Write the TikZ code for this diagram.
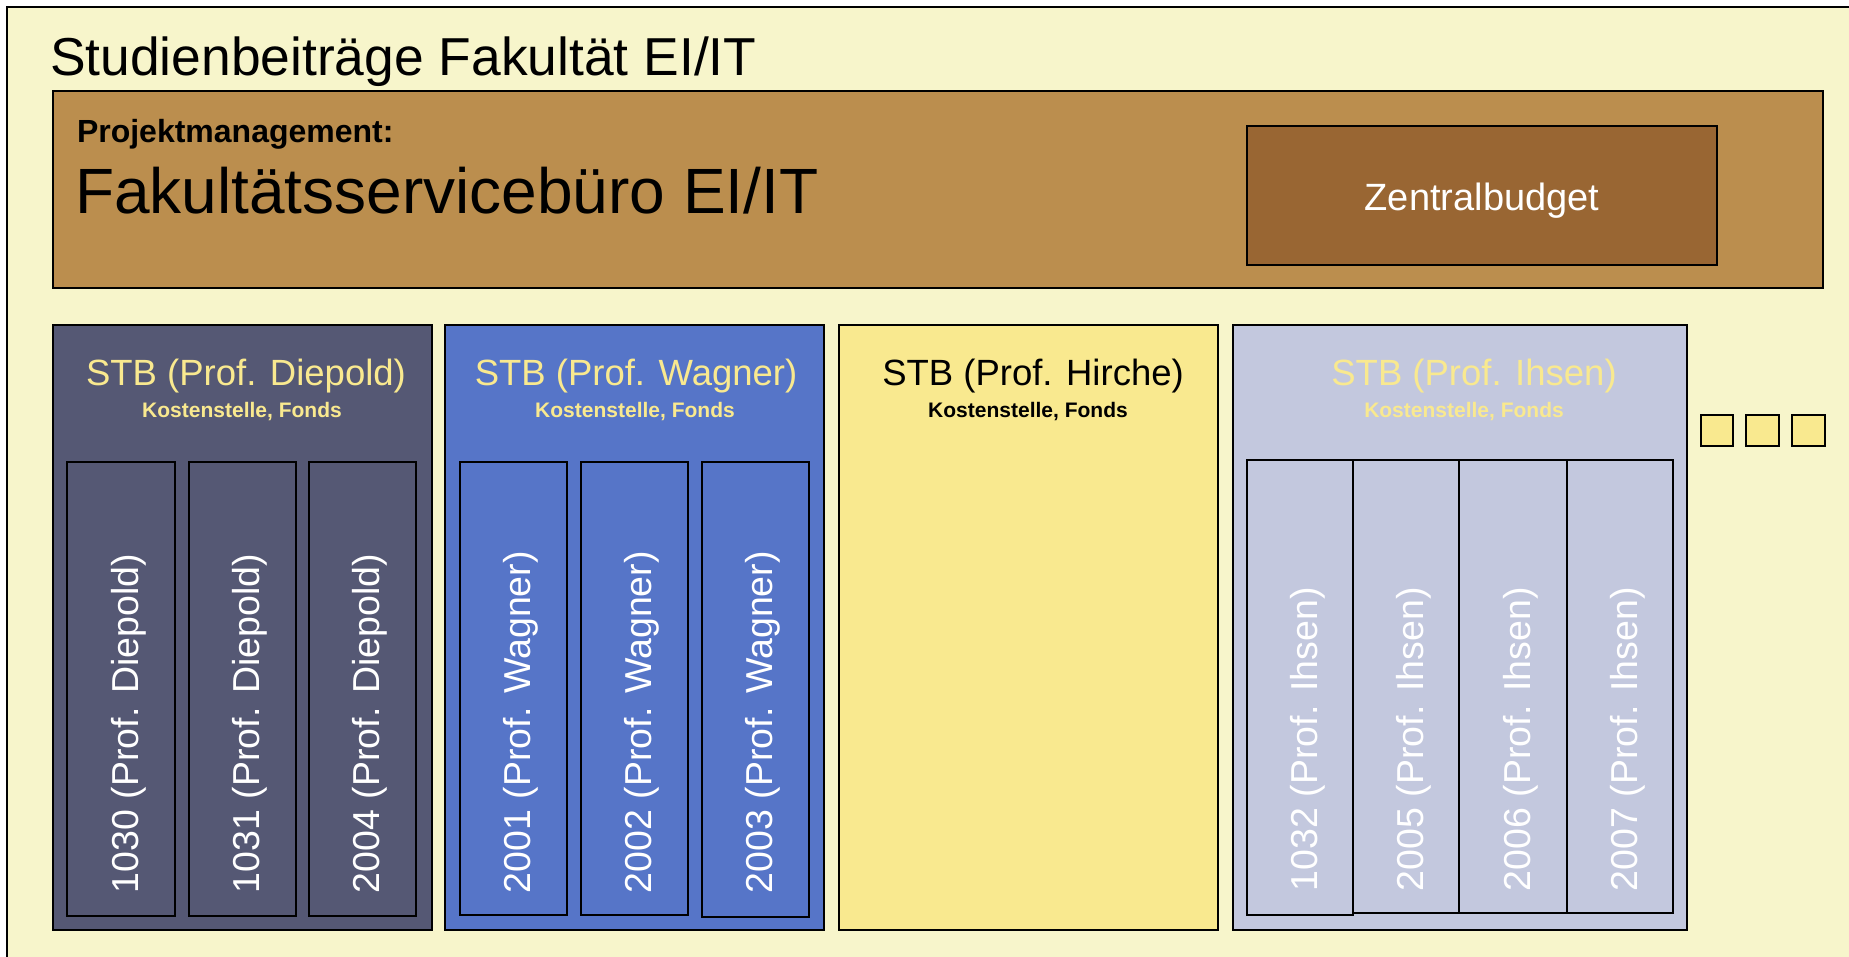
\documentclass[tikz,border=0pt]{standalone}
\usepackage{fontspec}
\setmainfont{Liberation Sans}
\definecolor{bgc}{HTML}{F7F5CB}
\definecolor{pmc}{HTML}{BB8E4E}
\definecolor{zbc}{HTML}{996633}
\definecolor{dpc}{HTML}{555874}
\definecolor{wgc}{HTML}{5675C8}
\definecolor{hic}{HTML}{F9E98F}
\definecolor{ihc}{HTML}{C3C8DE}
\definecolor{ylw}{HTML}{F9E98F}
\newcommand{\fs}[1]{\fontsize{#1}{#1}\selectfont}
\begin{document}
\begin{tikzpicture}[x=1pt,y=-1pt,
  box/.style={draw=black, line width=1.8pt, anchor=north west, inner sep=0pt, outer sep=0pt},
  colbox/.style={draw=black, line width=1.6pt, anchor=north west, inner sep=0pt, outer sep=0pt, minimum height=454pt},
  txt/.style={inner sep=0pt, outer sep=0pt},
  vlab/.style={inner sep=0pt, outer sep=0pt, rotate=90, anchor=base west, text=white, font=\fs{37.5}},
  stbt/.style={inner sep=0pt, anchor=base, font=\fs{36.5}},
  kst/.style={inner sep=0pt, anchor=base, font=\bfseries\fs{21}}]
\useasboundingbox (0,0) rectangle (1849,956);
\fill[white] (0,0) rectangle (1849,956);
% outer frame
\node[box, fill=bgc, minimum width=1870pt, minimum height=970pt] (outer) at (7,7) {};
\node[txt, anchor=base west, font=\fs{53.4}] (title) at (50,75) {Studienbeiträge Fakultät EI/IT};
% project management
\node[box, fill=pmc, minimum width=1770pt, minimum height=197pt] (pm) at (53,91) {};
\node[txt, anchor=base west, font=\bfseries\fs{32}] (pmlab) at (77,142) {Projektmanagement:};
\node[txt, anchor=base west, font=\fs{64}] (fsb) at (75,213) {Fakultätsservicebüro EI/IT};
\node[box, fill=zbc, minimum width=470pt, minimum height=139pt] (zb) at (1247,126) {};
\node[txt, anchor=base, text=white, font=\fs{38}] (zblab) at (1482,210) {Zentralbudget};
% STB boxes
\node[box, fill=dpc, minimum width=379pt, minimum height=605pt] (dp) at (53,325) {};
\node[box, fill=wgc, minimum width=379pt, minimum height=605pt] (wg) at (445,325) {};
\node[box, fill=hic, minimum width=379pt, minimum height=605pt] (hi) at (839,325) {};
\node[box, fill=ihc, minimum width=454pt, minimum height=605pt] (ih) at (1233,325) {};
\node[stbt, text=ylw] (dpt) at (246,385) {STB (Prof. Diepold)};
\node[kst, text=ylw] (dpk) at (242,417) {Kostenstelle, Fonds};
\node[stbt, text=ylw] (wgt) at (636,385) {STB (Prof. Wagner)};
\node[kst, text=ylw] (wgk) at (635,417) {Kostenstelle, Fonds};
\node[stbt, text=black] (hit) at (1033,385) {STB (Prof. Hirche)};
\node[kst, text=black] (hik) at (1028,417) {Kostenstelle, Fonds};
\node[stbt, text=ylw] (iht) at (1474,385) {STB (Prof. Ihsen)};
\node[kst, text=ylw] (ihk) at (1464,417) {Kostenstelle, Fonds};
% Diepold columns
\node[colbox, fill=dpc, minimum width=108pt] (d1) at (67,462) {};
\node[colbox, fill=dpc, minimum width=107pt] (d2) at (189,462) {};
\node[colbox, fill=dpc, minimum width=107pt] (d3) at (309,462) {};
\node[vlab] (d1l) at ([xshift=17pt]d1.center |- 0,893) {1030 (Prof. Diepold)};
\node[vlab] (d2l) at ([xshift=17pt]d2.center |- 0,893) {1031 (Prof. Diepold)};
\node[vlab] (d3l) at ([xshift=17pt]d3.center |- 0,893) {2004 (Prof. Diepold)};
% Wagner columns
\node[colbox, fill=wgc, minimum width=107pt, minimum height=453pt] (w1) at (460,462) {};
\node[colbox, fill=wgc, minimum width=107pt, minimum height=453pt] (w2) at (581,462) {};
\node[colbox, fill=wgc, minimum width=107pt, minimum height=455pt] (w3) at (702,462) {};
\node[vlab] (w1l) at ([xshift=17pt]w1.center |- 0,893) {2001 (Prof. Wagner)};
\node[vlab] (w2l) at ([xshift=17pt]w2.center |- 0,893) {2002 (Prof. Wagner)};
\node[vlab] (w3l) at ([xshift=17pt]w3.center |- 0,893) {2003 (Prof. Wagner)};
% Ihsen columns
\node[colbox, fill=ihc, minimum width=106pt, minimum height=455pt] (i1) at (1247,460) {};
\node[colbox, fill=ihc, minimum width=106pt, minimum height=453pt] (i2) at (1353,460) {};
\node[colbox, fill=ihc, minimum width=108pt, minimum height=453pt] (i3) at (1459,460) {};
\node[colbox, fill=ihc, minimum width=106pt, minimum height=453pt] (i4) at (1567,460) {};
\node[vlab] (i1l) at ([xshift=17pt]i1.center |- 0,891) {1032 (Prof. Ihsen)};
\node[vlab] (i2l) at ([xshift=17pt]i2.center |- 0,891) {2005 (Prof. Ihsen)};
\node[vlab] (i3l) at ([xshift=17pt]i3.center |- 0,891) {2006 (Prof. Ihsen)};
\node[vlab] (i4l) at ([xshift=17pt]i4.center |- 0,891) {2007 (Prof. Ihsen)};
% small squares
\node[box, fill=hic, minimum width=32pt, minimum height=31pt] (s1) at (1701,415) {};
\node[box, fill=hic, minimum width=33pt, minimum height=31pt] (s2) at (1746,415) {};
\node[box, fill=hic, minimum width=33pt, minimum height=31pt] (s3) at (1792,415) {};
\end{tikzpicture}
\end{document}
